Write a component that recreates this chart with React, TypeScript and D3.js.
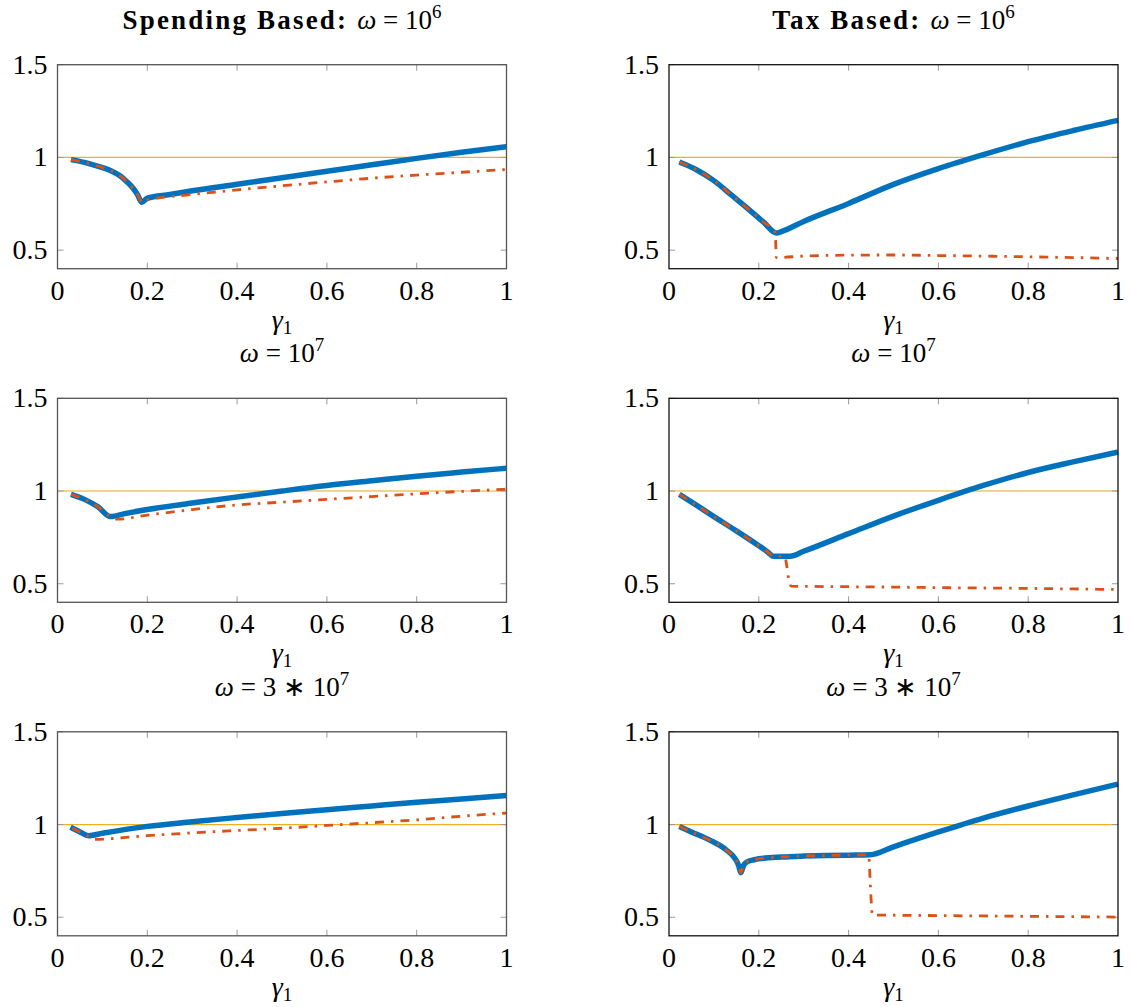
import React from 'react'
import * as d3 from 'd3'

// gamma_1 grid values, per panel: [gamma1, value]
const spend6Blue = [[0.03, 0.988], [0.07, 0.967], [0.1, 0.945], [0.12, 0.927], [0.14, 0.9], [0.155, 0.868], [0.168, 0.835], [0.178, 0.8], [0.188, 0.758], [0.2, 0.78], [0.25, 0.8], [0.3, 0.82], [0.4, 0.855], [0.5, 0.89], [0.6, 0.925], [0.7, 0.96], [0.8, 0.995], [0.9, 1.028], [1.0, 1.058]]
const spend6Red = [[0.03, 0.988], [0.07, 0.967], [0.1, 0.945], [0.12, 0.927], [0.14, 0.9], [0.155, 0.868], [0.168, 0.835], [0.178, 0.8], [0.19, 0.755], [0.2, 0.77], [0.3, 0.8], [0.4, 0.825], [0.5, 0.847], [0.6, 0.868], [0.7, 0.888], [0.8, 0.905], [0.9, 0.92], [1.0, 0.935]]

const tax6Blue = [[0.023, 0.975], [0.06, 0.935], [0.1, 0.875], [0.14, 0.795], [0.18, 0.715], [0.21, 0.652], [0.2395, 0.592], [0.25, 0.6], [0.3, 0.655], [0.4, 0.752], [0.5, 0.855], [0.6, 0.94], [0.7, 1.015], [0.8, 1.085], [0.9, 1.145], [1.0, 1.2]]
const tax6Red = [[0.023, 0.975], [0.06, 0.935], [0.1, 0.875], [0.14, 0.795], [0.18, 0.715], [0.21, 0.652], [0.236, 0.598], [0.2375, 0.55], [0.239, 0.46], [0.3, 0.468], [0.4, 0.473], [0.5, 0.474], [0.6, 0.471], [0.7, 0.468], [0.8, 0.464], [0.9, 0.46], [1.0, 0.455]]

const spend7Blue = [[0.03, 0.982], [0.06, 0.955], [0.09, 0.915], [0.118, 0.862], [0.15, 0.878], [0.2, 0.9], [0.3, 0.935], [0.4, 0.968], [0.5, 1.0], [0.6, 1.03], [0.7, 1.055], [0.8, 1.08], [0.9, 1.102], [1.0, 1.123]]
const spend7Red = [[0.03, 0.982], [0.06, 0.955], [0.09, 0.915], [0.118, 0.862], [0.132, 0.848], [0.2, 0.87], [0.3, 0.9], [0.4, 0.925], [0.5, 0.94], [0.6, 0.955], [0.7, 0.97], [0.8, 0.985], [0.9, 0.998], [1.0, 1.01]]

const tax7Blue = [[0.023, 0.982], [0.06, 0.925], [0.1, 0.862], [0.15, 0.785], [0.2, 0.705], [0.215, 0.68], [0.225, 0.66], [0.232, 0.648], [0.27, 0.648], [0.3, 0.675], [0.4, 0.77], [0.5, 0.865], [0.6, 0.95], [0.7, 1.03], [0.8, 1.1], [0.9, 1.157], [1.0, 1.21]]
const tax7Red = [[0.023, 0.982], [0.06, 0.925], [0.1, 0.862], [0.15, 0.785], [0.2, 0.705], [0.215, 0.68], [0.225, 0.66], [0.232, 0.648], [0.258, 0.648], [0.262, 0.6], [0.267, 0.52], [0.272, 0.487], [0.3, 0.486], [0.4, 0.484], [0.5, 0.482], [0.6, 0.479], [0.7, 0.477], [0.8, 0.475], [0.9, 0.472], [1.0, 0.469]]

const spend37Blue = [[0.029, 0.985], [0.05, 0.96], [0.069, 0.94], [0.1, 0.953], [0.2, 0.99], [0.3, 1.015], [0.4, 1.038], [0.5, 1.06], [0.6, 1.08], [0.7, 1.1], [0.8, 1.12], [0.9, 1.138], [1.0, 1.157]]
const spend37Red = [[0.033, 0.98], [0.05, 0.96], [0.069, 0.937], [0.08, 0.92], [0.2, 0.94], [0.3, 0.955], [0.4, 0.968], [0.5, 0.98], [0.6, 0.995], [0.7, 1.01], [0.8, 1.025], [0.9, 1.045], [1.0, 1.062]]

const tax37Blue = [[0.023, 0.99], [0.05, 0.96], [0.09, 0.917], [0.127, 0.864], [0.146, 0.82], [0.155, 0.78], [0.16, 0.74], [0.166, 0.78], [0.175, 0.8], [0.19, 0.81], [0.2, 0.815], [0.25, 0.825], [0.3, 0.83], [0.35, 0.833], [0.4, 0.835], [0.448, 0.837], [0.5, 0.88], [0.6, 0.96], [0.7, 1.035], [0.8, 1.1], [0.9, 1.16], [1.0, 1.218]]
const tax37Red = [[0.023, 0.99], [0.05, 0.96], [0.09, 0.917], [0.127, 0.864], [0.146, 0.82], [0.155, 0.78], [0.16, 0.74], [0.166, 0.78], [0.175, 0.8], [0.19, 0.81], [0.2, 0.815], [0.25, 0.825], [0.3, 0.83], [0.35, 0.833], [0.4, 0.835], [0.445, 0.836], [0.447, 0.75], [0.45, 0.6], [0.453, 0.512], [0.5, 0.511], [0.6, 0.509], [0.7, 0.507], [0.8, 0.505], [0.9, 0.503], [1.0, 0.501]]

const xTicks = [0, 0.2, 0.4, 0.6, 0.8, 1]
const yTicks = [0.5, 1, 1.5]
const omegaLabels = [['10', '6'], ['10', '7'], ['3 ∗ 10', '7']]

const panels = [
  { row: 0, col: 0, blue: spend6Blue, red: spend6Red },
  { row: 0, col: 1, blue: tax6Blue, red: tax6Red },
  { row: 1, col: 0, blue: spend7Blue, red: spend7Red },
  { row: 1, col: 1, blue: tax7Blue, red: tax7Red },
  { row: 2, col: 0, blue: spend37Blue, red: spend37Red },
  { row: 2, col: 1, blue: tax37Blue, red: tax37Red },
]

const W = 449
const H = 204
const colX = [57.5, 669]
const rowY = [64.7, 398.3, 731.8]
const FONT = 'Liberation Serif'

const Panel = ({ row, col, blue, red }) => {
  const x = d3.scaleLinear().domain([0, 1]).range([0, W])
  const y = d3.scaleLinear().domain([0.4, 1.5]).range([H, 0])
  const line = d3.line().x(d => x(d[0])).y(d => y(d[1])).curve(d3.curveMonotoneX)
  const [base, exp] = omegaLabels[row]
  const refColor = row === 1 ? '#f2d38f' : '#edb120'

  return (
    <g transform={`translate(${colX[col]},${rowY[row]})`}>
      {/* title */}
      <text x={W / 2} y={-36} textAnchor="middle" fontSize={27} fontFamily={FONT}>
        {row === 0 && (
          <tspan fontWeight="bold" letterSpacing={2.2}>{col === 0 ? 'Spending Based:' : 'Tax Based:'}  </tspan>
        )}
        <tspan fontStyle="italic">ω</tspan>
        <tspan>{'\u2005'}={'\u2005'}{base}</tspan>
        <tspan fontSize={19} dy={-11}>{exp}</tspan>
      </text>

      <line x1={x(0)} x2={x(1)} y1={y(1)} y2={y(1)} stroke={refColor} strokeWidth={row === 1 ? 2 : 1.3} />

      {/* ticks inside the frame */}
      {xTicks.slice(1, -1).map(t => (
        <g key={'x' + t} stroke="#9a9a9a" strokeWidth={1}>
          <line x1={x(t)} x2={x(t)} y1={H} y2={H - 6} />
          <line x1={x(t)} x2={x(t)} y1={0} y2={6} />
        </g>
      ))}
      {yTicks.map(t => (
        <g key={'y' + t} stroke="#9a9a9a" strokeWidth={1}>
          <line x1={0} x2={6} y1={y(t)} y2={y(t)} />
          <line x1={W} x2={W - 6} y1={y(t)} y2={y(t)} />
        </g>
      ))}

      <path d={line(blue)} fill="none" stroke="#0072bd" strokeWidth={5.5} strokeLinejoin="round" />
      <path d={line(red)} fill="none" stroke="#d95319" strokeWidth={2.8} strokeDasharray="9 7 2.5 7" />

      <rect x={0} y={0} width={W} height={H} fill="none" stroke={col === 0 ? '#555' : '#111'} strokeWidth={1.3} />

      {xTicks.map(t => (
        <text key={'xl' + t} x={x(t)} y={H + 31} textAnchor="middle" fontSize={28} fontFamily={FONT}>
          {t === 0 || t === 1 ? String(t) : t.toFixed(1)}
        </text>
      ))}
      {yTicks.map(t => (
        <text key={'yl' + t} x={-10} y={y(t) + 9} textAnchor="end" fontSize={28} fontFamily={FONT}>
          {t === 1 ? '1' : t.toFixed(1)}
        </text>
      ))}
      <text x={W / 2} y={H + 60} textAnchor="middle" fontSize={28} fontFamily={FONT}>
        <tspan fontStyle="italic">γ</tspan>
        <tspan fontSize={19} dy={5}>1</tspan>
      </text>
    </g>
  )
}

export default function App() {
  return (
    <svg width={1130} height={1007} style={{ position: 'absolute', left: 0, top: 0, background: '#fff', fontFamily: FONT }}>
      {panels.map(p => (
        <Panel key={`${p.row}-${p.col}`} {...p} />
      ))}
    </svg>
  )
}
